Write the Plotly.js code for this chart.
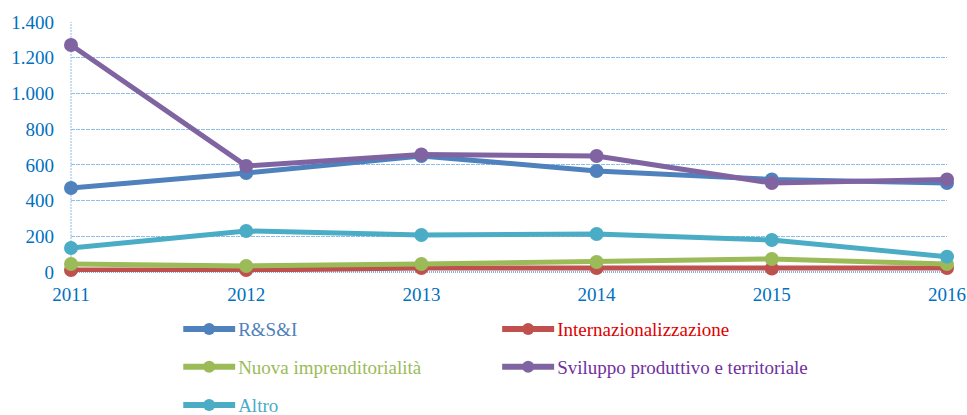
<!DOCTYPE html>
<html>
<head>
<meta charset="utf-8">
<script src="https://cdn.plot.ly/plotly-3.0.1.min.js"></script>
<style>html,body{margin:0;padding:0;background:#fff;}#chart{width:967px;height:415px;}</style>
</head>
<body>
<div id="chart"></div>
<script>
const years = [2011, 2012, 2013, 2014, 2015, 2016];
const rsi = [470, 554, 650, 566, 518, 498];
const internaz = [11, 11, 22, 22, 20, 22];
const nuova = [45, 34, 45, 56, 73, 45];
const sviluppo = [1271, 594, 658, 650, 498, 518];
const altro = [134, 230, 207, 213, 179, 86];
const yTicks = [0, 200, 400, 600, 800, 1000, 1200, 1400];

const names = ['R&S&I', 'Internazionalizzazione', 'Nuova imprenditorialità', 'Sviluppo produttivo e territoriale', 'Altro'];
const series = [rsi, internaz, nuova, sviluppo, altro];
const colors = ['#4F81BD', '#C0504D', '#9BBB59', '#8064A2', '#4BACC6'];
const textColors = ['#4F81BD', '#E00000', '#9BBB59', '#7030A0', '#4BACC6'];
const legendOf = ['legend', 'legend', 'legend2', 'legend2', 'legend3'];
const FAM = 'Liberation Serif, Times New Roman, serif';

const traces = series.map((s, i) => ({
  x: years, y: s, name: names[i], type: 'scatter', mode: 'lines+markers',
  line: {color: colors[i], width: 5},
  marker: {color: colors[i], size: 14},
  cliponaxis: false,
  legend: legendOf[i]
}));

function leg(y) {
  return {
    orientation: 'h', xref: 'container', yref: 'container',
    xanchor: 'left', yanchor: 'middle', x: 0.1894, y: y,
    entrywidth: 274, entrywidthmode: 'pixels',
    font: {family: FAM, size: 19, color: '#333'},
    bgcolor: 'rgba(0,0,0,0)', borderwidth: 0
  };
}

const layout = {
  width: 967, height: 415,
  margin: {l: 71, r: 20, t: 22, b: 143, autoexpand: false},
  paper_bgcolor: '#fff', plot_bgcolor: '#fff',
  separators: ',.',
  showlegend: true,
  font: {family: FAM, size: 19, color: '#0070C0'},
  xaxis: {
    range: [2011, 2016], tickvals: years, ticktext: years.map(String),
    showgrid: false, zeroline: false, showline: false,
    ticks: '', automargin: false, ticklabelstandoff: 9,
    tickfont: {family: FAM, size: 19, color: '#0070C0'}
  },
  yaxis: {
    range: [0, 1400], tickvals: yTicks, separatethousands: true, tickformat: ',d',
    showgrid: true, gridcolor: '#8FBFE8', griddash: '4px,1px', gridwidth: 1,
    zeroline: false, showline: false, ticks: '', automargin: false, ticklabelstandoff: 16,
    tickfont: {family: FAM, size: 19, color: '#0070C0'}
  },
  shapes: [
    {type: 'line', xref: 'paper', yref: 'paper', x0: 0, x1: 0, y0: 0, y1: 1,
      line: {color: '#8FBFE8', width: 1, dash: '2px,1px'}, layer: 'below'},
    {type: 'line', xref: 'paper', yref: 'paper', x0: 0, x1: 1, y0: 0, y1: 0,
      line: {color: '#5B9BD5', width: 1.5, dash: '1px,1px'}, layer: 'below'}
  ],
  legend: leg(0.207),
  legend2: leg(0.116),
  legend3: leg(0.024)
};

function fixText() {
  document.querySelectorAll('.xtick text, .ytick text').forEach(t => {
    t.style.fontFamily = "'Liberation Serif', serif";
  });
  document.querySelectorAll('.infolayer text').forEach(t => {
    const idx = names.indexOf(t.textContent);
    if (idx < 0) return;
    const el = t.parentNode;
    t.style.fill = textColors[idx];
    t.style.fontFamily = "'Liberation Serif', serif";
    t.style.fontSize = '19px';
    t.setAttribute('x', 55);
    el.querySelectorAll('[class*=legendlines] path').forEach(p => {
      p.setAttribute('d', 'M0,0h52');
      p.style.strokeWidth = '6px';
    });
    el.querySelectorAll('[class*=legendpoints] path').forEach(p => {
      p.setAttribute('transform', 'translate(26,0)');
      p.setAttribute('d', 'M6,0A6,6 0 1,1 0,-6A6,6 0 0,1 6,0Z');
    });
  });
}

Plotly.newPlot('chart', traces, layout, {displayModeBar: false, staticPlot: true}).then(gd => {
  fixText();
  setTimeout(fixText, 50);
});
</script>
</body>
</html>
